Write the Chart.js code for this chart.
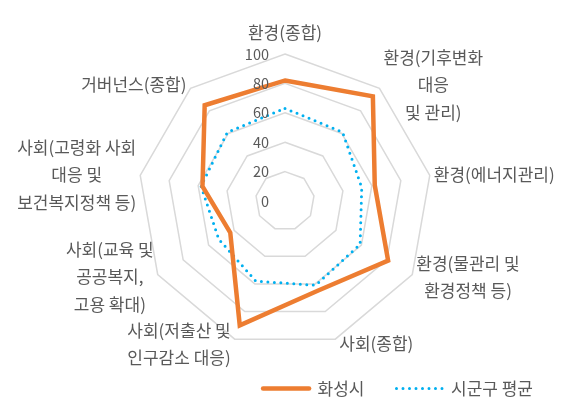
<!DOCTYPE html>
<html>
<head>
<meta charset="utf-8">
<script src="https://cdn.jsdelivr.net/npm/chart.js@4/dist/chart.umd.min.js"></script>
<style>
  html, body { margin: 0; padding: 0; background: #fff; }
  #wrap { width: 572px; height: 407px; }
</style>
</head>
<body>
<div id="wrap"><canvas id="radarChart"></canvas></div>
<script>
const categories = [
  ["환경(종합)"],
  ["환경(기후변화", "대응", "및 관리)"],
  ["환경(에너지관리)"],
  ["환경(물관리 및", "환경정책 등)"],
  ["사회(종합)"],
  ["사회(저출산 및", "인구감소 대응)"],
  ["사회(교육 및", "공공복지,", "고용 확대)"],
  ["사회(고령화 사회", "대응 및", "보건복지정책 등)"],
  ["거버넌스(종합)"]
];
const hwaseongValues = [82, 93, 62, 81, 65, 90, 43, 57, 85];
const averageValues = [63, 61, 53, 59, 61, 58, 52, 58, 61];
const tickValues = [0, 20, 40, 60, 80, 100];

const FONT = "'Noto Sans CJK KR', 'Noto Sans', sans-serif";
const TEXT_COLOR = "#595959";

// tick labels and multi-line category labels, placed from the radial scale
const radarText = {
  id: "radarText",
  afterDatasetsDraw(chart) {
    const scale = chart.scales.r;
    const ctx = chart.ctx;
    ctx.save();
    ctx.fillStyle = TEXT_COLOR;
    ctx.textBaseline = "middle";

    ctx.font = "14.5px " + FONT;
    ctx.textAlign = "right";
    tickValues.forEach((v) => {
      const d = scale.getDistanceFromCenterForValue(v);
      ctx.fillText(String(v), scale.xCenter - 16, scale.yCenter - d);
    });

    ctx.font = "17px " + FONT;
    ctx.textAlign = "center";
    const lineHeight = 27.5;
    categories.forEach((lines, i) => {
      const p = scale.getPointPosition(i, scale.drawingArea);
      const cos = Math.cos(p.angle);
      const sin = Math.sin(p.angle);
      const blockW = Math.max(...lines.map((l) => ctx.measureText(l).width));
      const blockH = lines.length * lineHeight;
      let cx, cy;
      if (Math.abs(cos) < 0.1) {
        cx = p.x;
        cy = sin < 0 ? p.y - blockH / 2 - 8 : p.y + blockH / 2 + 8;
      } else {
        cx = cos > 0 ? p.x + 4 + blockW / 2 : p.x - 4 - blockW / 2;
        cy = p.y + 5 * sin;
      }
      lines.forEach((line, j) => {
        ctx.fillText(line, cx, cy - blockH / 2 + lineHeight * (j + 0.5));
      });
    });
    ctx.restore();
  }
};

document.addEventListener("DOMContentLoaded", function () {
  Chart.defaults.font.family = FONT;
  const ctx = document.getElementById("radarChart").getContext("2d");
  new Chart(ctx, {
    type: "radar",
    data: {
      labels: categories,
      datasets: [
        {
          label: "화성시",
          data: hwaseongValues,
          borderColor: "#ED7D31",
          backgroundColor: "rgba(0,0,0,0)",
          borderWidth: 4.5,
          borderCapStyle: "round",
          fill: false,
          pointRadius: 0,
          pointHoverRadius: 0
        },
        {
          label: "시군구 평균",
          data: averageValues,
          borderColor: "#00B0F0",
          backgroundColor: "rgba(0,0,0,0)",
          borderWidth: 3,
          borderDash: [0, 6.5],
          borderCapStyle: "round",
          fill: false,
          pointRadius: 0,
          pointHoverRadius: 0
        }
      ]
    },
    options: {
      responsive: true,
      maintainAspectRatio: false,
      animation: false,
      layout: { padding: { top: 54, right: 7, bottom: 0, left: 5 } },
      plugins: {
        tooltip: { enabled: false },
        legend: {
          position: "bottom",
          align: "end",
          labels: {
            usePointStyle: true,
            pointStyleWidth: 46,
            padding: 32,
            color: TEXT_COLOR,
            font: { size: 17, family: FONT },
            generateLabels: (chart) =>
              chart.data.datasets.map((ds, i) => ({
                text: ds.label,
                fillStyle: ds.borderColor,
                strokeStyle: ds.borderColor,
                fontColor: TEXT_COLOR,
                lineWidth: ds.borderWidth,
                lineDash: ds.borderDash || [],
                lineCap: ds.borderCapStyle,
                pointStyle: "line",
                hidden: false,
                datasetIndex: i
              }))
          }
        }
      },
      scales: {
        r: {
          min: 0,
          max: 100,
          ticks: { display: false, stepSize: 20 },
          grid: { color: "#d9d9d9", lineWidth: 1.5 },
          angleLines: { display: false },
          pointLabels: { display: false }
        }
      }
    },
    plugins: [radarText]
  });
});
</script>
</body>
</html>
